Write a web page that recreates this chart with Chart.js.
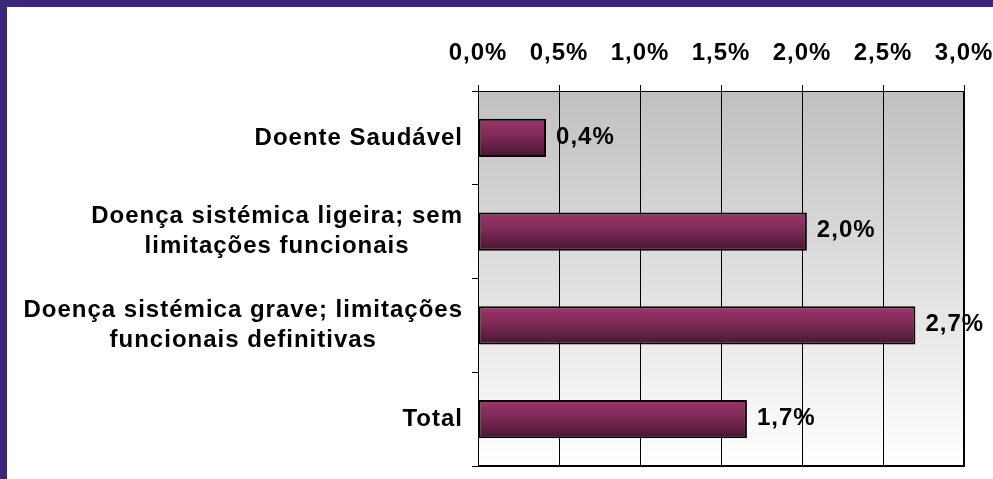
<!DOCTYPE html>
<html>
<head>
<meta charset="utf-8">
<script src="https://cdn.jsdelivr.net/npm/chart.js@4"></script>
<style>
  html, body { margin: 0; padding: 0; background: #fff; overflow: hidden; }
  #wrap { position: relative; width: 993px; height: 479px; }
</style>
</head>
<body>
<div id="wrap"><canvas id="c"></canvas></div>
<script>
// ---- data ----
const categories = [
  ["Doente Saudável"],
  ["Doença sistémica ligeira; sem", "limitações funcionais"],
  ["Doença sistémica grave; limitações", "funcionais definitivas"],
  ["Total"]
];
const values = [0.42, 2.03, 2.70, 1.66];
const valueLabels = ["0,4%", "2,0%", "2,7%", "1,7%"];
const xTickLabels = ["0,0%", "0,5%", "1,0%", "1,5%", "2,0%", "2,5%", "3,0%"];

// ---- styling ----
const FONT_FAMILY = '"Liberation Sans", Arial, sans-serif';
const FONT_SIZE = 24;
const FONT = 'bold ' + FONT_SIZE + 'px ' + FONT_FAMILY;
const SPACING = '1px';

const decor = {
  id: 'decor',
  beforeUpdate(chart) { chart.ctx.letterSpacing = SPACING; },
  beforeDraw(chart) {
    const { ctx, chartArea: a, width, height } = chart;
    ctx.save();
    ctx.fillStyle = '#ffffff';
    ctx.fillRect(0, 0, width, height);
    // frame stripes
    ctx.fillStyle = '#3B2779';
    ctx.fillRect(0, 0, width, 7);
    ctx.fillRect(0, 0, 7, height);
    // plot background gradient
    const g = ctx.createLinearGradient(0, a.top, 0, a.bottom);
    g.addColorStop(0, '#C0C0C0');
    g.addColorStop(1, '#FFFFFF');
    ctx.fillStyle = g;
    ctx.fillRect(a.left, a.top, a.right - a.left, a.bottom - a.top);
    ctx.restore();
    ctx.letterSpacing = SPACING;
  },
  afterDatasetsDraw(chart) {
    const { ctx, chartArea: a } = chart;
    ctx.save();
    ctx.letterSpacing = SPACING;
    // right & bottom frame (heavier)
    ctx.strokeStyle = '#000';
    ctx.lineWidth = 2;
    ctx.beginPath();
    ctx.moveTo(a.right, a.top);
    ctx.lineTo(a.right, a.bottom);
    ctx.lineTo(a.left, a.bottom);
    ctx.stroke();
    // value labels
    ctx.fillStyle = '#000';
    ctx.font = FONT;
    ctx.textAlign = 'left';
    ctx.textBaseline = 'middle';
    const meta = chart.getDatasetMeta(0);
    meta.data.forEach((bar, i) => {
      ctx.fillText(valueLabels[i], bar.x + 10, bar.y - 1);
    });
    // category labels: block right aligned, lines centered
    const ys = chart.scales.y;
    const rightEdge = a.left - 15;
    const lh = 30;
    chart.data.labels.forEach((lines, i) => {
      const cy = ys.getPixelForValue(i);
      let maxW = 0;
      lines.forEach(l => { maxW = Math.max(maxW, ctx.measureText(l).width); });
      const cx = rightEdge - maxW / 2;
      ctx.textAlign = 'center';
      lines.forEach((l, j) => {
        const ly = cy + (j - (lines.length - 1) / 2) * lh;
        ctx.fillText(l, cx, ly);
      });
    });
    ctx.restore();
  }
};

function barGradient(context) {
  const chart = context.chart;
  const a = chart.chartArea;
  if (!a || context.type !== 'data') return '#7A2854';
  const ys = chart.scales.y;
  const cy = ys.getPixelForValue(context.dataIndex);
  const half = 19;
  const g = chart.ctx.createLinearGradient(0, cy - half, 0, cy + half);
  g.addColorStop(0, '#9E3569');
  g.addColorStop(0.45, '#7D2A57');
  g.addColorStop(1, '#45162F');
  return g;
}

new Chart(document.getElementById('c'), {
  type: 'bar',
  data: {
    labels: categories,
    datasets: [{
      data: values,
      backgroundColor: barGradient,
      borderColor: '#000',
      borderWidth: 2,
      borderSkipped: false,
      categoryPercentage: 1,
      barPercentage: 0.41
    }]
  },
  options: {
    indexAxis: 'y',
    responsive: true,
    maintainAspectRatio: false,
    animation: false,
    layout: { padding: { top: 7, left: 472, right: 29, bottom: 13 } },
    plugins: { legend: { display: false }, tooltip: { enabled: false } },
    scales: {
      x: {
        position: 'top',
        min: 0,
        max: 3,
        ticks: {
          stepSize: 0.5,
          autoSkip: false,
          maxRotation: 0,
          padding: 17,
          color: '#000',
          font: { family: FONT_FAMILY, size: FONT_SIZE, weight: 'bold' },
          callback: (v, i) => xTickLabels[i]
        },
        grid: { color: '#000', lineWidth: 1, tickLength: 6, drawTicks: true },
        border: { display: true, color: '#000', width: 1 },
        afterFit: (s) => { s.height = 84; s.paddingLeft = 0; s.paddingRight = 0; }
      },
      y: {
        ticks: { display: false },
        grid: { offset: true, drawOnChartArea: false, drawTicks: true, tickLength: 6, color: '#000' },
        border: { display: true, color: '#000', width: 1 },
        afterFit: (s) => { s.width = 6; }
      }
    }
  },
  plugins: [decor]
});
</script>
</body>
</html>
